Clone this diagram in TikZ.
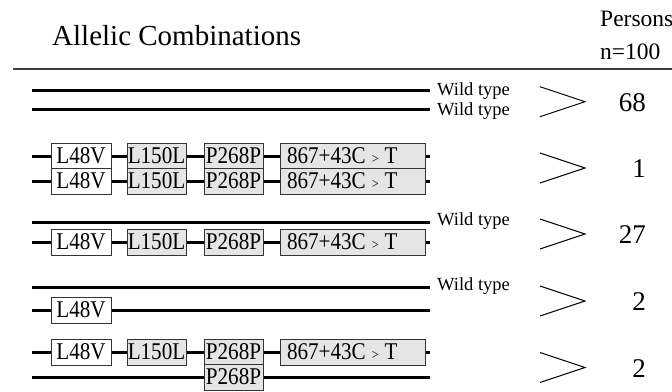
\documentclass[tikz,border=0pt]{standalone}
\usepackage{fontspec}
\setmainfont{Liberation Serif}
\newfontfamily\narrowserif[FakeStretch=0.88]{Liberation Serif}
\begin{document}
\begin{tikzpicture}[x=1pt,y=-1pt,
  strand/.style={line width=3pt,line cap=butt},
  allele/.style={draw=black!80,line width=0.9pt,fill=black!10,minimum height=26pt,
    inner sep=0pt,font=\narrowserif\fontsize{24}{24}\selectfont},
  wtbox/.style={allele,fill=white},
  shortbox/.style={allele,minimum width=59pt},
  longbox/.style={allele,text width=131pt,inner xsep=7pt,align=left},
  wtlabel/.style={anchor=west,inner sep=0pt,font=\fontsize{18.5}{18.5}\selectfont},
  count/.style={anchor=east,inner sep=0pt,font=\fontsize{27}{27}\selectfont},
  chev/.style={line width=1pt,line join=miter},
  heading/.style={anchor=base west,inner sep=0pt}
]
\useasboundingbox (0,0) rectangle (672,391);

% heading
\node[heading,font=\fontsize{29}{29}\selectfont] (title) at (52,45) {Allelic Combinations};
\node[heading,font=\fontsize{23.5}{23.5}\selectfont] (persons) at (600,26.5) {Persons};
\node[heading,font=\fontsize{23.5}{23.5}\selectfont] (total) at (600,59.5) {n=100};
\coordinate (ruleL) at (13,69);
\coordinate (ruleR) at (672,69);
\draw[line width=2pt,black!75] (ruleL) -- (ruleR);

% strand end points
\foreach \n/\y in {1a/90,1b/109,2a/156,2b/181,3a/222,3b/242,4a/287,4b/310,5a/352,5b/377}{
  \coordinate (s\n) at (32,\y);
  \coordinate (e\n) at (430,\y);
  \draw[strand] (s\n) -- (e\n);
}

% wild type labels
\node[wtlabel] (w1a) at (437,91) {Wild type};
\node[wtlabel] (w1b) at (437,111) {Wild type};
\node[wtlabel] (w3a) at (437,221) {Wild type};
\node[wtlabel] (w4a) at (437,286) {Wild type};

% variant boxes
\newcommand{\gtgt}{\hspace{6pt}{\fontsize{14}{14}\selectfont >}\hspace{6pt}}
\foreach \r/\y in {2a/156,2b/181,3b/242,5a/352}{
  \node[wtbox,minimum width=60pt] (l48v\r) at (81,\y) {L48V};
  \node[shortbox] (l150l\r) at (156.5,\y) {L150L};
  \node[shortbox] (p268p\r) at (233.5,\y) {P268P};
  \node[longbox] (int\r) at (352.5,\y) {867+43C\gtgt T};
}
\node[wtbox,minimum width=60pt] (l48v4b) at (81,310) {L48V};
\node[shortbox] (p268p5b) at (233.5,377) {P268P};

% chevrons and counts
\foreach \c/\k/\cnt in {101.7/1/68,168/2/1,234/3/27,301/4/2,367.5/5/2}{
  \draw[chev] (540,\c-15) -- (585,\c) -- (540,\c+15);
  \node[count] (n\k) at (646,\c+1) {\cnt};
}
\end{tikzpicture}
\end{document}
